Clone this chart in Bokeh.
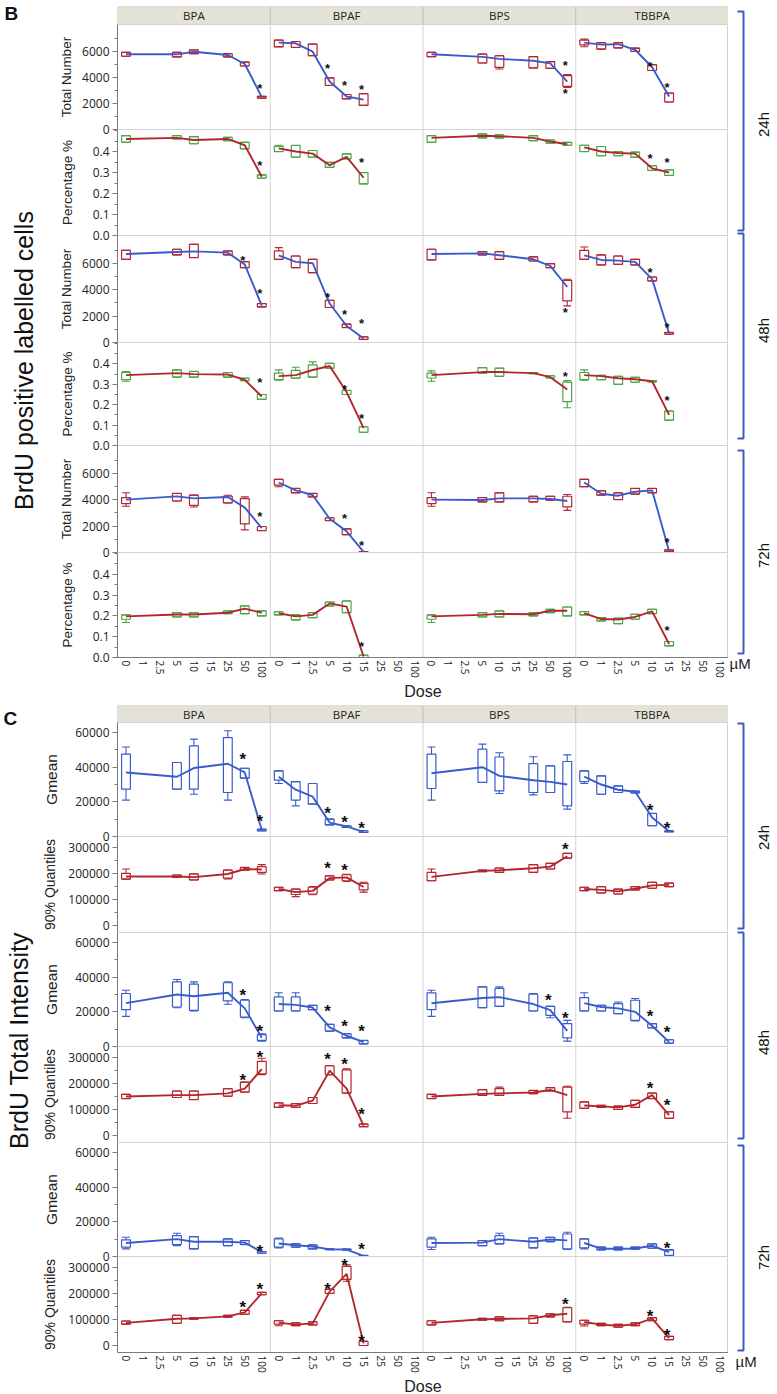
from math import pi
from bokeh.plotting import figure
from bokeh.layouts import row, column
from bokeh.models import FactorRange, Range1d, FixedTicker, PrintfTickFormatter, Span, ColumnDataSource
from bokeh.core.properties import value
from bokeh.embed import file_html
from bokeh.resources import INLINE

COMPOUNDS = ["BPA", "BPAF", "BPS", "TBBPA"]
DOSES = ["0", "1", "2.5", "5", "10", "15", "25", "50", "100"]
DOSES_BPA = ["0", "5", "10", "25", "50", "100"]      # BPA, BPS
DOSES_BPAF = ["0", "1", "2.5", "5", "10", "15"]      # BPAF, TBBPA
COMPOUND_DOSES = {"BPA": DOSES_BPA, "BPAF": DOSES_BPAF, "BPS": DOSES_BPA, "TBBPA": DOSES_BPAF}
TIMES = ["24h", "48h", "72h"]
TITLE_B = "BrdU positive labelled cells"
TITLE_C = "BrdU Total Intensity"

# ---- box data: (whisker low, Q1, Q3, whisker high, mean) per dose ----
TN_24 = {
    "BPA": [(5650, 5650, 5950, 5950, 5800), (5600, 5600, 5950, 5950, 5800), (5850, 5850, 6150, 6150, 6000),
            (5600, 5600, 5850, 5850, 5750), (4900, 4900, 5200, 5200, 5050), (2420, 2420, 2560, 2560, 2500)],
    "BPAF": [(6380, 6380, 6900, 6900, 6700), (6330, 6330, 6790, 6790, 6650), (5700, 5700, 6590, 6590, 6000),
             (3400, 3400, 3980, 3980, 3700), (2370, 2370, 2700, 2700, 2550), (1860, 1860, 2760, 2760, 2300)],
    "BPS": [(5620, 5620, 5950, 5950, 5800), (5130, 5130, 5820, 5820, 5600), (4670, 4800, 5690, 5690, 5450),
            (4750, 4750, 5620, 5620, 5300), (4720, 4720, 5230, 5230, 5100), (3240, 3320, 4160, 4240, 3700)],
    "TBBPA": [(6380, 6530, 6900, 6970, 6700), (6200, 6200, 6700, 6700, 6550), (6300, 6300, 6700, 6700, 6580),
              (6020, 6020, 6280, 6280, 6150), (4550, 4550, 5000, 5000, 4800), (2120, 2120, 2810, 2810, 2550)],
}
STAR_TN_24 = {"BPA": [("100", 3400)], "BPAF": [("5", 4930), ("10", 3650), ("15", 3320)],
              "BPS": [("100", 5180), ("100", 3010)], "TBBPA": [("10", 5130), ("15", 3470)]}

PCT_24 = {
    "BPA": [(0.444, 0.444, 0.476, 0.476, 0.46), (0.46, 0.46, 0.476, 0.476, 0.465), (0.437, 0.437, 0.471, 0.471, 0.455),
            (0.452, 0.452, 0.468, 0.468, 0.46), (0.413, 0.413, 0.444, 0.444, 0.43), (0.273, 0.273, 0.289, 0.289, 0.28)],
    "BPAF": [(0.40, 0.40, 0.425, 0.43, 0.415), (0.373, 0.373, 0.429, 0.429, 0.40), (0.373, 0.373, 0.405, 0.405, 0.39),
             (0.325, 0.325, 0.349, 0.349, 0.335), (0.365, 0.365, 0.389, 0.389, 0.375), (0.246, 0.246, 0.30, 0.30, 0.275)],
    "BPS": [(0.444, 0.444, 0.476, 0.476, 0.465), (0.465, 0.465, 0.484, 0.484, 0.475), (0.465, 0.465, 0.48, 0.48, 0.473),
            (0.452, 0.452, 0.476, 0.476, 0.465), (0.44, 0.44, 0.455, 0.455, 0.448), (0.43, 0.43, 0.444, 0.444, 0.435)],
    "TBBPA": [(0.40, 0.40, 0.43, 0.43, 0.42), (0.38, 0.38, 0.424, 0.424, 0.40), (0.38, 0.38, 0.40, 0.40, 0.393),
              (0.373, 0.373, 0.397, 0.397, 0.39), (0.31, 0.31, 0.333, 0.333, 0.32), (0.286, 0.286, 0.313, 0.313, 0.30)],
}
STAR_PCT_24 = {"BPA": [("100", 0.349)], "BPAF": [("15", 0.36)], "BPS": [], "TBBPA": [("10", 0.381), ("15", 0.36)]}

TN_48 = {
    "BPA": [(6300, 6300, 6980, 6980, 6700), (6630, 6630, 7060, 7060, 6850), (6430, 6430, 7430, 7430, 6900),
            (6630, 6630, 6930, 6930, 6800), (5670, 5670, 6120, 6120, 5900), (2700, 2700, 2950, 2950, 2800)],
    "BPAF": [(6300, 6300, 6930, 7180, 6600), (5670, 5670, 6550, 6550, 6100), (5290, 5290, 6300, 6300, 6000),
             (2650, 2650, 3200, 3200, 2950), (1130, 1130, 1390, 1390, 1250), (230, 230, 430, 430, 300)],
    "BPS": [(6250, 6250, 7060, 7060, 6700), (6630, 6630, 6880, 6880, 6750), (6300, 6300, 6880, 6880, 6600),
            (6170, 6170, 6480, 6480, 6300), (5670, 5670, 5970, 5970, 5800), (2770, 3150, 4710, 4790, 4200)],
    "TBBPA": [(6300, 6300, 6980, 7230, 6600), (5870, 5870, 6630, 6630, 6250), (5920, 5920, 6550, 6550, 6200),
              (5870, 5870, 6300, 6300, 6100), (4660, 4660, 4960, 4960, 4800), (630, 630, 760, 760, 700)],
}
STAR_TN_48 = {"BPA": [("50", 6430), ("100", 3960)], "BPAF": [("5", 3650), ("10", 2340), ("15", 1640)],
              "BPS": [("100", 2520)], "TBBPA": [("10", 5540), ("15", 1390)]}

PCT_48 = {
    "BPA": [(0.315, 0.323, 0.358, 0.363, 0.345), (0.335, 0.335, 0.371, 0.371, 0.355), (0.335, 0.335, 0.363, 0.363, 0.35),
            (0.335, 0.335, 0.358, 0.358, 0.348), (0.318, 0.318, 0.33, 0.33, 0.322), (0.226, 0.226, 0.25, 0.25, 0.24)],
    "BPAF": [(0.32, 0.323, 0.355, 0.371, 0.34), (0.33, 0.33, 0.368, 0.384, 0.345), (0.335, 0.335, 0.395, 0.41, 0.37),
             (0.379, 0.379, 0.403, 0.403, 0.39), (0.25, 0.25, 0.27, 0.27, 0.262), (0.065, 0.065, 0.092, 0.092, 0.085)],
    "BPS": [(0.315, 0.331, 0.355, 0.366, 0.345), (0.355, 0.355, 0.382, 0.382, 0.36), (0.339, 0.339, 0.379, 0.379, 0.36),
            (0.352, 0.352, 0.358, 0.358, 0.355), (0.331, 0.331, 0.342, 0.342, 0.335), (0.185, 0.215, 0.311, 0.318, 0.275)],
    "TBBPA": [(0.32, 0.323, 0.358, 0.371, 0.345), (0.323, 0.323, 0.344, 0.344, 0.34), (0.30, 0.30, 0.339, 0.339, 0.33),
              (0.31, 0.31, 0.334, 0.334, 0.325), (0.312, 0.312, 0.318, 0.318, 0.315), (0.124, 0.124, 0.169, 0.169, 0.15)],
}
STAR_PCT_48 = {"BPA": [("100", 0.323)], "BPAF": [("10", 0.29), ("15", 0.145)], "BPS": [("100", 0.355)],
               "TBBPA": [("15", 0.234)]}

TN_72 = {
    "BPA": [(3500, 3700, 4160, 4520, 4000), (3900, 3900, 4470, 4470, 4250), (3450, 3570, 4340, 4340, 4100),
            (3750, 3750, 4260, 4330, 4200), (1710, 2170, 4085, 4210, 3400), (1660, 1660, 1970, 1970, 1850)],
    "BPAF": [(4980, 5100, 5540, 5540, 5300), (4520, 4520, 4850, 4850, 4700), (4210, 4210, 4470, 4470, 4350),
             (2420, 2420, 2630, 2630, 2550), (1350, 1350, 1790, 1790, 1600), (20, 20, 60, 60, 40)],
    "BPS": [(3500, 3700, 4160, 4520, 4000), (3830, 3830, 4160, 4160, 3970), (3830, 3830, 4520, 4520, 4100),
            (3830, 3830, 4260, 4260, 4100), (3960, 3960, 4260, 4260, 4050), (3190, 3450, 4260, 4390, 3900)],
    "TBBPA": [(4980, 4980, 5540, 5540, 5300), (4340, 4340, 4670, 4670, 4450), (4010, 4010, 4520, 4520, 4300),
              (4420, 4420, 4850, 4850, 4600), (4520, 4520, 4850, 4850, 4700), (60, 60, 200, 200, 100)],
}
STAR_TN_72 = {"BPA": [("100", 2940)], "BPAF": [("10", 2810), ("15", 770)], "BPS": [], "TBBPA": [("15", 1020)]}

PCT_72 = {
    "BPA": [(0.168, 0.184, 0.205, 0.205, 0.198), (0.195, 0.195, 0.216, 0.216, 0.207), (0.195, 0.195, 0.216, 0.216, 0.207),
            (0.211, 0.211, 0.224, 0.224, 0.215), (0.211, 0.211, 0.248, 0.248, 0.235), (0.20, 0.20, 0.224, 0.224, 0.215)],
    "BPAF": [(0.205, 0.205, 0.22, 0.22, 0.213), (0.181, 0.181, 0.205, 0.205, 0.198), (0.192, 0.192, 0.216, 0.216, 0.205),
             (0.248, 0.248, 0.267, 0.267, 0.26), (0.216, 0.216, 0.272, 0.272, 0.245), (0.0, 0.0, 0.011, 0.011, 0.005)],
    "BPS": [(0.168, 0.184, 0.205, 0.205, 0.198), (0.195, 0.195, 0.216, 0.216, 0.205), (0.195, 0.195, 0.224, 0.224, 0.21),
            (0.20, 0.20, 0.216, 0.216, 0.208), (0.216, 0.216, 0.232, 0.232, 0.225), (0.20, 0.20, 0.243, 0.243, 0.225)],
    "TBBPA": [(0.205, 0.205, 0.221, 0.221, 0.213), (0.176, 0.176, 0.192, 0.192, 0.185), (0.163, 0.163, 0.189, 0.189, 0.183),
              (0.184, 0.184, 0.208, 0.208, 0.195), (0.211, 0.211, 0.232, 0.232, 0.222), (0.056, 0.056, 0.077, 0.077, 0.065)],
}
STAR_PCT_72 = {"BPA": [], "BPAF": [("15", 0.067)], "BPS": [], "TBBPA": [("15", 0.144)]}

GM_24 = {
    "BPA": [(21000, 27300, 47500, 51700, 36900), (27300, 27300, 42700, 42700, 34500), (24400, 27300, 52300, 56200, 39500),
            (21000, 25400, 57100, 61000, 42000), (33700, 33700, 39400, 39400, 37000), (3300, 3300, 4200, 4200, 3800)],
    "BPAF": [(30600, 32500, 37900, 37900, 34500), (17700, 21000, 31700, 31700, 27000), (18700, 18700, 30600, 30600, 23000),
             (6700, 6700, 10000, 10000, 8000), (5200, 5200, 6200, 6200, 5800), (2300, 2300, 3300, 3300, 2700)],
    "BPS": [(21000, 27700, 47500, 51700, 36500), (31200, 31200, 50400, 53300, 40000), (24800, 26300, 45900, 48300, 35000),
            (24000, 25400, 42100, 46000, 32500), (25400, 25400, 40800, 40800, 31500), (15800, 17700, 43300, 47100, 30000)],
    "TBBPA": [(30600, 31700, 37900, 37900, 34500), (24400, 24400, 35000, 35000, 30000), (25400, 25400, 29200, 29200, 27000),
              (25200, 25200, 26200, 26200, 25800), (6200, 6200, 13300, 13300, 11000), (2700, 2700, 3300, 3300, 3000)],
}
STAR_GM_24 = {"BPA": [("50", 46500), ("100", 11000)], "BPAF": [("5", 15800), ("10", 10600), ("15", 6700)],
              "BPS": [], "TBBPA": [("10", 17100), ("15", 6700)]}

Q90_24 = {
    "BPA": [(178000, 178000, 200000, 217000, 188000), (185000, 185000, 194000, 194000, 188000),
            (175000, 175000, 198000, 198000, 186000), (179000, 182000, 213000, 213000, 198000),
            (213000, 213000, 223000, 223000, 217000), (198000, 204000, 226000, 234000, 215000)],
    "BPAF": [(134000, 134000, 147000, 147000, 140000), (111000, 119000, 140000, 140000, 128000),
             (118000, 121000, 147000, 150000, 133000), (175000, 175000, 191000, 191000, 182000),
             (169000, 172000, 195000, 197000, 185000), (128000, 137000, 162000, 166000, 148000)],
    "BPS": [(172000, 172000, 204000, 217000, 187000), (207000, 207000, 213000, 213000, 210000),
            (204000, 204000, 221000, 221000, 212000), (204000, 204000, 234000, 234000, 220000),
            (217000, 217000, 239000, 239000, 226000), (259000, 259000, 277000, 277000, 266000)],
    "TBBPA": [(134000, 134000, 147000, 147000, 140000), (125000, 125000, 149000, 149000, 137000),
              (121000, 121000, 140000, 140000, 131000), (137000, 137000, 149000, 149000, 141000),
              (143000, 143000, 166000, 166000, 154000), (149000, 149000, 163000, 163000, 156000)],
}
STAR_Q90_24 = {"BPA": [], "BPAF": [("5", 233000), ("10", 226000)], "BPS": [("100", 306000)], "TBBPA": []}

GM_48 = {
    "BPA": [(17400, 21300, 30600, 32500, 25000), (22400, 22800, 37300, 38700, 30000), (20500, 20900, 36000, 37300, 29000),
            (24400, 26300, 36800, 37300, 31000), (16600, 17000, 26700, 27100, 22000), (3100, 3500, 6800, 7400, 5000)],
    "BPAF": [(20500, 20500, 28600, 31000, 24500), (20500, 20500, 28600, 31000, 24000), (21300, 21300, 23800, 23800, 22500),
             (8900, 8900, 12800, 12800, 11000), (5000, 5000, 7400, 7400, 6200), (1500, 1500, 3500, 3500, 2500)],
    "BPS": [(17400, 21300, 31000, 32500, 25000), (22400, 22400, 34400, 34400, 28000), (23200, 23200, 33500, 34400, 28500),
            (20500, 20500, 30200, 30600, 24500), (16600, 18000, 23200, 23200, 21000), (3100, 5000, 13200, 15100, 9000)],
    "TBBPA": [(20500, 20500, 28200, 31000, 25000), (20500, 20500, 23800, 23800, 22800), (19000, 19000, 24800, 25700, 22000),
              (14700, 15100, 26700, 27700, 20000), (10800, 10800, 13200, 13200, 12000), (1900, 1900, 3900, 3900, 2500)],
}
STAR_GM_48 = {"BPA": [("50", 32000), ("100", 11200)], "BPAF": [("5", 22400), ("10", 14100), ("15", 10800)],
              "BPS": [("50", 29000), ("100", 18400)], "TBBPA": [("10", 19400), ("15", 10600)]}

Q90_48 = {
    "BPA": [(142000, 142000, 158000, 158000, 150000), (146000, 146000, 171000, 171000, 155000),
            (138000, 138000, 171000, 171000, 155000), (151000, 151000, 180000, 180000, 162000),
            (167000, 167000, 205000, 205000, 180000), (234000, 237000, 285000, 297000, 255000)],
    "BPAF": [(108000, 108000, 125000, 125000, 115000), (108000, 108000, 123000, 123000, 115000),
             (123000, 123000, 146000, 146000, 134000), (234000, 234000, 268000, 268000, 249000),
             (163000, 163000, 252000, 256000, 180000), (34000, 34000, 44000, 44000, 38000)],
    "BPS": [(142000, 142000, 158000, 158000, 150000), (154000, 154000, 176000, 176000, 160000),
            (154000, 154000, 180000, 186000, 162000), (161000, 161000, 173000, 173000, 165000),
            (171000, 171000, 184000, 184000, 175000), (66000, 91000, 186000, 189000, 155000)],
    "TBBPA": [(104000, 104000, 129000, 129000, 115000), (108000, 108000, 116000, 116000, 112000),
              (100000, 100000, 113000, 113000, 108000), (108000, 108000, 135000, 135000, 118000),
              (142000, 142000, 163000, 163000, 155000), (66000, 66000, 91000, 91000, 78000)],
}
STAR_Q90_48 = {"BPA": [("50", 227000), ("100", 315000)], "BPAF": [("5", 306000), ("10", 287000), ("15", 95000)],
               "BPS": [], "TBBPA": [("10", 196000), ("15", 129000)]}

GM_72 = {
    "BPA": [(4400, 5400, 9600, 11100, 7800), (6300, 6900, 12100, 13400, 10000), (4400, 4400, 11500, 11500, 8500),
            (6300, 6300, 10200, 10200, 8500), (6900, 6900, 9200, 9200, 8000), (1900, 1900, 2900, 2900, 2500)],
    "BPAF": [(5000, 5400, 10200, 10700, 7500), (5400, 5400, 7300, 7300, 6500), (4400, 4400, 6700, 6700, 5800),
             (3900, 3900, 4400, 4400, 4100), (3800, 3800, 4300, 4300, 4000), (100, 100, 600, 600, 400)],
    "BPS": [(4000, 5400, 10200, 11100, 7800), (6300, 6300, 9200, 9200, 8000), (7300, 7300, 12100, 13400, 10000),
            (5000, 5000, 10700, 10700, 8500), (8600, 8600, 11100, 11100, 9800), (4000, 4400, 13000, 14000, 9300)],
    "TBBPA": [(4400, 5000, 10200, 10200, 7800), (3800, 3800, 5400, 5400, 4500), (3800, 3800, 5400, 5400, 4500),
              (4200, 4200, 5400, 5400, 4600), (4800, 4800, 7300, 7300, 6200), (600, 600, 3800, 3800, 2500)],
}
STAR_GM_72 = {"BPA": [("100", 5400)], "BPAF": [("15", 6300)], "BPS": [], "TBBPA": [("15", 6900)]}

Q90_72 = {
    "BPA": [(82000, 82000, 94000, 94000, 87000), (85000, 85000, 116000, 116000, 103000),
            (101000, 101000, 106000, 106000, 104000), (109000, 109000, 116000, 116000, 112000),
            (120000, 120000, 135000, 135000, 127000), (195000, 195000, 204000, 204000, 200000)],
    "BPAF": [(76000, 82000, 95000, 95000, 88000), (76000, 76000, 87000, 87000, 80000),
             (79000, 79000, 91000, 91000, 85000), (200000, 200000, 216000, 216000, 207000),
             (247000, 254000, 304000, 310000, 275000), (0, 0, 16000, 16000, 8000)],
    "BPS": [(79000, 79000, 95000, 95000, 87000), (97000, 97000, 104000, 104000, 101000),
            (95000, 95000, 110000, 110000, 102000), (85000, 85000, 114000, 114000, 104000),
            (110000, 110000, 122000, 122000, 116000), (91000, 91000, 145000, 147000, 122000)],
    "TBBPA": [(75000, 82000, 97000, 97000, 90000), (76000, 76000, 85000, 85000, 80000),
              (70000, 70000, 81000, 81000, 76000), (76000, 76000, 87000, 87000, 81000),
              (95000, 95000, 107000, 107000, 103000), (22500, 22500, 35000, 35000, 28000)],
}
STAR_Q90_72 = {"BPA": [("50", 162000), ("100", 229000)], "BPAF": [("5", 229000), ("10", 322000), ("15", 32000)],
               "BPS": [("100", 172000)], "TBBPA": [("10", 126000), ("15", 54000)]}

# ---- styling ----
BLUE = "#3a5bcc"
RED = "#b3262e"
GREEN = "#4aa646"
GRID = "#d4d4d4"
AXIS = "#7a7a7a"
TEXT = "#222222"
HEADER_FILL = "#e4e2d6"
HEADER_LINE = "#c6c4b8"
FRAME_W = 611
LEFT_W = 42        # width of the title strip
LEFT_OVERLAP = 12  # title strip slides under the (transparent) axis border
LEFT_B = 87
RIGHT_W = 49
OVER = 8


def make_row(data, stars, label, yr, majors, minors, fmt, box_c, line_c, standoff, label_size,
             frame_h, first, last, axis_h, star_size, star_dy):
    factors = [(c, d) for c in COMPOUNDS for d in DOSES]
    p = figure(x_range=FactorRange(*factors, factor_padding=0, group_padding=0, range_padding=0),
               y_range=Range1d(*yr), frame_width=FRAME_W, frame_height=frame_h,
               min_border_left=LEFT_B, min_border_right=0, min_border_top=0,
               min_border_bottom=axis_h if last else OVER,
               x_axis_location="below" if last else None,
               output_backend="svg", toolbar_location=None,
               background_fill_color=None, border_fill_color=None,
               outline_line_color=GRID)
    if not first:
        p.margin = (-OVER, 0, 0, 0)
    p.grid.visible = False

    ax = p.yaxis[0]
    ax.ticker = FixedTicker(ticks=majors, minor_ticks=minors)
    ax.formatter = PrintfTickFormatter(format=fmt)
    ax.axis_label = label
    ax.axis_label_standoff = standoff
    ax.axis_label_text_font = "Liberation Sans"
    ax.axis_label_text_font_size = label_size
    ax.axis_label_text_font_style = "normal"
    ax.axis_label_text_color = TEXT
    ax.major_label_text_font = "Open Sans"
    ax.major_label_text_font_size = "12px"
    ax.major_label_text_color = TEXT
    ax.major_label_standoff = 3
    ax.major_tick_out = 5
    ax.major_tick_in = 0
    ax.minor_tick_out = 3
    ax.minor_tick_in = 0
    ax.axis_line_color = AXIS
    ax.major_tick_line_color = AXIS
    ax.minor_tick_line_color = AXIS

    if last:
        xa = p.xaxis[0]
        xa.major_label_orientation = "vertical"
        xa.major_label_text_font = "Open Sans"
        xa.major_label_text_font_size = "10px"
        xa.major_label_text_color = TEXT
        xa.major_label_standoff = 3
        xa.group_text_font_size = "0px"
        xa.group_text_color = None
        xa.group_label_orientation = "horizontal"
        xa.separator_line_color = None
        xa.major_tick_out = 0
        xa.major_tick_in = 0
        xa.axis_line_color = AXIS
        xa.axis_label = "Dose"
        xa.axis_label_standoff = 2
        xa.axis_label_text_font = "Liberation Sans"
        xa.axis_label_text_font_size = "16px"
        xa.axis_label_text_font_style = "normal"
        xa.axis_label_text_color = TEXT

    for i in range(1, len(COMPOUNDS)):
        p.add_layout(Span(location=len(DOSES) * i, dimension="height", line_color=GRID, line_width=1))

    for c in COMPOUNDS:
        vals = data[c]
        src = ColumnDataSource(dict(
            x=[(c, d) for d in COMPOUND_DOSES[c]],
            lo=[v[0] for v in vals], q1=[v[1] for v in vals], q3=[v[2] for v in vals],
            hi=[v[3] for v in vals], mean=[v[4] for v in vals]))
        p.segment(x0="x", y0="lo", x1="x", y1="q1", source=src, line_color=box_c, line_width=1.1)
        p.segment(x0="x", y0="q3", x1="x", y1="hi", source=src, line_color=box_c, line_width=1.1)
        p.scatter(x="x", y="lo", source=src, marker="dash", size=8, line_color=box_c, line_width=1.1)
        p.scatter(x="x", y="hi", source=src, marker="dash", size=8, line_color=box_c, line_width=1.1)
        p.vbar(x="x", width=0.52, bottom="q1", top="q3", source=src, fill_color=None,
               line_color=box_c, line_width=1.2)
        p.line(x="x", y="mean", source=src, line_color=line_c, line_width=1.9)
        st = stars.get(c, [])
        if st:
            p.text(x=[(c, d) for d, _ in st], y=[v for _, v in st], text=["*"] * len(st),
                   text_align="center", text_baseline="middle", x_offset=-2, y_offset=star_dy,
                   text_font=value("Liberation Sans"), text_font_style="bold",
                   text_font_size=star_size, text_color="#111111")
    return p


def make_header(top, hh):
    h = figure(x_range=FactorRange(*COMPOUNDS, factor_padding=0, range_padding=0),
               y_range=Range1d(0, 1), frame_width=FRAME_W, frame_height=hh,
               min_border_left=LEFT_B, min_border_right=0, min_border_top=top, min_border_bottom=0,
               x_axis_location=None, y_axis_location=None,
               output_backend="svg", toolbar_location=None, outline_line_color=None,
               background_fill_color=None, border_fill_color=None)
    h.grid.visible = False
    h.rect(x=COMPOUNDS, y=0.5, width=1, height=1, fill_color=HEADER_FILL, line_color=HEADER_LINE, line_width=1)
    h.text(x=COMPOUNDS, y=0.5, text=COMPOUNDS, text_align="center", text_baseline="middle",
           text_font=value("Open Sans"), text_font_size="11.5px", text_color=TEXT)
    return h


def make_side(width, height):
    s = figure(x_range=Range1d(0, width), y_range=Range1d(height, 0),
               frame_width=width, frame_height=height, min_border=0,
               x_axis_location=None, y_axis_location=None,
               output_backend="svg", toolbar_location=None, outline_line_color=None,
               background_fill_color=None, border_fill_color=None)
    s.grid.visible = False
    return s


def make_panel(letter, letter_xy, title, title_xy, rows_cfg, frame_hs, header_top, header_h, axis_h,
               brackets, time_ys, mu_xy, star_size, star_dy):
    figs = [make_header(header_top, header_h)]
    n = len(rows_cfg)
    for i, cfg in enumerate(rows_cfg):
        figs.append(make_row(*cfg, frame_h=frame_hs[i], first=(i == 0), last=(i == n - 1), axis_h=axis_h,
                             star_size=star_size, star_dy=star_dy))
    H = header_top + header_h + sum(frame_hs) + axis_h

    left = make_side(LEFT_W, H)
    left.margin = (0, -LEFT_OVERLAP, 0, 0)
    left.text(x=[letter_xy[0]], y=[letter_xy[1]], text=[letter], text_align="left", text_baseline="top",
              text_font=value("Liberation Sans"), text_font_style="bold", text_font_size="19px",
              text_color="#111111")
    left.text(x=[title_xy[0]], y=[title_xy[1]], text=[title], angle=pi / 2, text_align="center",
              text_baseline="middle", text_font=value("Liberation Sans"), text_font_size="25px",
              text_color="#111111")

    right = make_side(RIGHT_W, H)
    right.multi_line(xs=[[9, 15, 15, 9] for _ in brackets],
                     ys=[[t, t, b, b] for t, b in brackets],
                     line_color="#3d5cc4", line_width=2)
    right.text(x=[35] * len(TIMES), y=time_ys, text=TIMES, angle=pi / 2, text_align="center",
               text_baseline="middle", text_font=value("Liberation Sans"), text_font_size="15px",
               text_color="#111111")
    right.text(x=[mu_xy[0]], y=[mu_xy[1]], text=["\u00b5M"], text_align="left", text_baseline="middle",
               text_font=value("Liberation Sans"), text_font_size="15px", text_color="#222222")
    return row(left, column(*figs), right)


TN_T = [0, 2000, 4000, 6000]
TN_M = [1000, 3000, 5000, 7000]
P_T = [0, 0.1, 0.2, 0.3, 0.4]
P_M = [0.05, 0.15, 0.25, 0.35, 0.45, 0.5]
rows_B = [
    (TN_24, STAR_TN_24, "Total Number", (0, 8100), TN_T, TN_M, "%d", RED, BLUE, 5, "13.5px"),
    (PCT_24, STAR_PCT_24, "Percentage %", (0, 0.505), P_T, P_M, "%.1f", GREEN, RED, 15, "13.5px"),
    (TN_48, STAR_TN_48, "Total Number", (0, 8100), TN_T, TN_M, "%d", RED, BLUE, 5, "13.5px"),
    (PCT_48, STAR_PCT_48, "Percentage %", (0, 0.505), P_T, P_M, "%.1f", GREEN, RED, 15, "13.5px"),
    (TN_72, STAR_TN_72, "Total Number", (0, 8100), TN_T, TN_M, "%d", RED, BLUE, 5, "13.5px"),
    (PCT_72, STAR_PCT_72, "Percentage %", (0, 0.505), P_T, P_M, "%.1f", GREEN, RED, 15, "13.5px"),
]
GM_T = [0, 20000, 40000, 60000]
GM_M = [10000, 30000, 50000]
Q_T = [0, 100000, 200000, 300000]
Q_M = [50000, 150000, 250000]
rows_C = [
    (GM_24, STAR_GM_24, "Gmean", (0, 65800), GM_T, GM_M, "%d", BLUE, BLUE, 12, "15.5px"),
    (Q90_24, STAR_Q90_24, "90% Quantiles", (-27000, 342000), Q_T, Q_M, "%d", RED, RED, 7, "14px"),
    (GM_48, STAR_GM_48, "Gmean", (0, 65800), GM_T, GM_M, "%d", BLUE, BLUE, 12, "15.5px"),
    (Q90_48, STAR_Q90_48, "90% Quantiles", (-27000, 342000), Q_T, Q_M, "%d", RED, RED, 7, "14px"),
    (GM_72, STAR_GM_72, "Gmean", (0, 65800), GM_T, GM_M, "%d", BLUE, BLUE, 12, "15.5px"),
    (Q90_72, STAR_Q90_72, "90% Quantiles", (-27000, 342000), Q_T, Q_M, "%d", RED, RED, 7, "14px"),
]

panel_B = make_panel("B", (4, 2), TITLE_B, (23, 360), rows_B, [105, 106, 107, 103, 107, 105], 6, 18, 48,
                     [(11, 230), (233, 438), (450, 653)], [124, 330, 555], (1, 663), "13px", 3)
panel_C = make_panel("C", (3, 2), TITLE_C, (18, 335), rows_C, [114, 96, 114, 96, 114, 96], 0, 17, 40,
                     [(18, 223), (227, 433), (440, 645)], [132, 337, 552], (7, 656), "17px", 4)

page = column(panel_B, panel_C)
open("out.html", "w").write(file_html(page, INLINE))
